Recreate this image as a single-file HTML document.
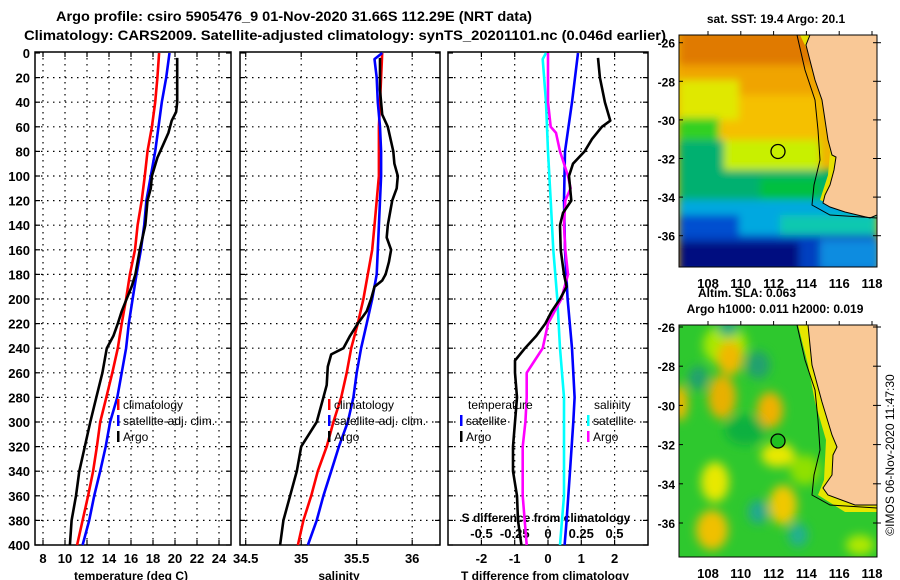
<!DOCTYPE html>
<html><head><meta charset="utf-8">
<style>
html,body{margin:0;padding:0;background:#fff;}
svg{display:block;font-family:"Liberation Sans",Arial,sans-serif;font-weight:bold;}
</style></head>
<body>
<svg id="c" width="900" height="580" viewBox="0 0 900 580" xmlns="http://www.w3.org/2000/svg">
<defs>
<filter id="blur6" x="-50%" y="-50%" width="200%" height="200%"><feGaussianBlur stdDeviation="5"/></filter>
<filter id="blur3"><feGaussianBlur stdDeviation="4"/></filter>
<clipPath id="clipTop"><rect x="679" y="35" width="198" height="232"/></clipPath>
<clipPath id="clipBot"><rect x="679" y="325" width="198" height="232"/></clipPath>
</defs>
<text x="56" y="21" font-size="14" textLength="476" lengthAdjust="spacingAndGlyphs">Argo profile: csiro 5905476_9 01-Nov-2020 31.66S 112.29E (NRT data)</text>
<text x="24" y="40" font-size="14" textLength="642" lengthAdjust="spacingAndGlyphs">Climatology: CARS2009. Satellite-adjusted climatology: synTS_20201101.nc (0.046d earlier)</text>
<g id="plots"></g>

<!-- top map -->
<g clip-path="url(#clipTop)">
  <rect x="679" y="35" width="198" height="232" fill="#f0b400"/>
  <g filter="url(#blur3)">
    <rect x="679" y="30" width="198" height="40" fill="#e07a00"/>
    <rect x="679" y="65" width="198" height="30" fill="#f0a400"/>
    <rect x="679" y="95" width="140" height="50" fill="#f5c000"/>
    <rect x="679" y="80" width="60" height="40" fill="#e0e800"/>
    <rect x="679" y="118" width="40" height="30" fill="#30d020"/>
    <rect x="720" y="140" width="100" height="30" fill="#c8f000"/>
    <rect x="679" y="140" width="45" height="35" fill="#00b070"/>
    <rect x="679" y="170" width="198" height="30" fill="#00b070"/>
    <rect x="760" y="178" width="60" height="30" fill="#00c040"/>
    <rect x="679" y="200" width="198" height="35" fill="#00a8e0"/>
    <rect x="679" y="215" width="60" height="25" fill="#0050d0"/>
    <rect x="780" y="215" width="97" height="25" fill="#10c8b0"/>
    <rect x="679" y="235" width="198" height="40" fill="#0040c0"/>
    <rect x="679" y="242" width="120" height="30" fill="#000c80"/>
    <rect x="820" y="240" width="60" height="30" fill="#0a8ce0"/>
  </g>
  <polygon points="800,35 812,60 822,100 826,130 830,152 828,175 820,200 845,210 877,210 877,35" fill="#e6e000"/>
  <polygon points="810,35 806,45 815,80 822,100 825,120 828,140 832,155 836,157 834,170 830,185 825,195 823,203 830,207 845,212 870,218 877,215 877,35" fill="#f9c896" stroke="#000" stroke-width="1"/>
  <polyline points="797,35 805,70 815,100 818,130 820,160 814,185 812,205 830,215 877,218" fill="none" stroke="#000" stroke-width="1"/>
  <circle cx="778" cy="151.5" r="7" fill="none" stroke="#000" stroke-width="1.3"/>
</g>
<rect x="679" y="35" width="198" height="232" fill="none" stroke="#000" stroke-width="1"/>

<!-- bottom map -->
<g clip-path="url(#clipBot)">
  <rect x="679" y="325" width="198" height="232" fill="#2ec82e"/>
  <g filter="url(#blur6)">
    <ellipse cx="725" cy="345" rx="22" ry="20" fill="#a8e800"/>
    <ellipse cx="730" cy="358" rx="13" ry="17" fill="#f0b800"/>
    <ellipse cx="722" cy="397" rx="14" ry="22" fill="#e8b000"/>
    <ellipse cx="770" cy="410" rx="13" ry="18" fill="#f0b000"/>
    <ellipse cx="680" cy="403" rx="8" ry="18" fill="#f0b800"/>
    <ellipse cx="778" cy="455" rx="17" ry="12" fill="#e8e800"/>
    <ellipse cx="715" cy="482" rx="14" ry="20" fill="#e8e800"/>
    <ellipse cx="783" cy="505" rx="14" ry="20" fill="#f0c800"/>
    <ellipse cx="712" cy="530" rx="16" ry="20" fill="#f0c000"/>
    <ellipse cx="745" cy="430" rx="20" ry="15" fill="#10b040"/>
    <ellipse cx="758" cy="365" rx="12" ry="14" fill="#20a070"/>
    <ellipse cx="698" cy="378" rx="10" ry="12" fill="#20a070"/>
    <ellipse cx="758" cy="512" rx="10" ry="12" fill="#20a890"/>
    <ellipse cx="798" cy="535" rx="10" ry="12" fill="#20b090"/>
    <ellipse cx="728" cy="328" rx="10" ry="8" fill="#20a880"/>
    <ellipse cx="805" cy="470" rx="15" ry="15" fill="#90e000"/>
    <ellipse cx="860" cy="545" rx="14" ry="10" fill="#b0e800"/>
  </g>
  <polygon points="798,325 808,365 815,402 826,440 824,480 818,495 845,512 877,512 877,325" fill="#e6e600"/>
  <polygon points="808,325 812,365 822,402 832,435 837,447 833,455 832,475 823,488 828,495 855,505 877,505 877,325" fill="#f9c896" stroke="#000" stroke-width="1"/>
  <polyline points="797,325 805,360 815,390 818,420 820,450 814,475 812,495 830,505 877,508" fill="none" stroke="#000" stroke-width="1"/>
  <circle cx="778" cy="441" r="7" fill="#20c020" stroke="#000" stroke-width="1.3"/>
</g>
<rect x="679" y="325" width="198" height="232" fill="none" stroke="#000" stroke-width="1"/>

<text x="776" y="23" font-size="12" text-anchor="middle">sat. SST: 19.4 Argo: 20.1</text>
<text x="747" y="297" font-size="12" text-anchor="middle">Altim. SLA: 0.063</text>
<text x="775" y="313" font-size="12" text-anchor="middle">Argo h1000: 0.011 h2000: 0.019</text>
<text transform="translate(894,455) rotate(-90)" font-size="12" font-weight="normal" text-anchor="middle">©IMOS 06-Nov-2020 11:47:30</text>
<g id="maps"></g>
</svg>
<script>
// ---- data ----
var tClimDepth = [0,20,40,60,80,100,120,140,160,180,200,220,240,260,280,300,320,340,360,380,400];
var tClim = [18.55,18.4,18.2,17.9,17.5,17.25,16.97,16.6,16.36,15.9,15.55,15.15,14.8,14.3,13.75,13.2,12.9,12.55,12.1,11.6,11.1];
var tSat = [19.5,19.2,18.8,18.5,18.2,17.8,17.4,17.2,16.9,16.5,16.15,15.8,15.55,15.15,14.75,14.1,13.7,13.2,12.65,12.2,11.6];
var argoDepth = [4,20,40,48,55,65,75,85,100,110,120,140,160,180,190,200,210,220,230,240,260,280,300,320,340,360,380,400];
var tArgo = [20.2,20.2,20.2,20.1,19.7,19.4,18.9,18.4,17.9,17.8,17.5,17.3,16.8,16.4,16.05,15.6,15.15,14.8,14.4,13.8,13.4,12.85,12.3,11.8,11.3,11.0,10.6,10.45];
var sClimDepth = [0,20,40,60,80,100,120,140,160,180,200,220,240,260,280,300,320,340,360,380,400];
var sClim = [35.73,35.72,35.71,35.70,35.70,35.70,35.68,35.66,35.64,35.60,35.56,35.51,35.45,35.41,35.36,35.29,35.23,35.15,35.09,35.02,34.97];
var sSatDepth = [0,5,20,40,60,80,100,120,140,160,180,200,220,240,260,280,300,320,340,360,380,400];
var sSat = [35.73,35.66,35.68,35.69,35.71,35.72,35.72,35.71,35.70,35.69,35.68,35.64,35.59,35.54,35.50,35.47,35.42,35.34,35.27,35.20,35.14,35.06];
var sArgoDepth = [4,30,40,50,60,80,90,100,110,120,140,150,160,170,180,185,190,200,210,220,230,240,245,255,270,280,300,320,340,360,380,400];
var sArgo = [35.71,35.71,35.72,35.73,35.78,35.83,35.84,35.87,35.86,35.82,35.78,35.77,35.81,35.79,35.76,35.73,35.66,35.63,35.59,35.51,35.44,35.38,35.27,35.24,35.23,35.2,35.14,35.0,34.96,34.9,34.84,34.81];
var dDepth = [0,40,80,120,160,200,240,280,300,340,380,400];
var dTSat = [0.9,0.72,0.51,0.48,0.51,0.59,0.72,0.8,0.76,0.66,0.56,0.5];
var dTArgoDepth = [4,20,40,55,60,70,80,90,100,120,130,140,160,180,190,200,210,220,230,240,250,260,280,300,320,340,360,380,400];
var dTArgo = [1.5,1.56,1.71,1.87,1.62,1.32,1.1,0.75,0.63,0.7,0.45,0.36,0.38,0.48,0.56,0.36,0.11,-0.08,-0.35,-0.69,-0.99,-0.99,-0.93,-0.99,-1.05,-1.05,-0.93,-0.9,-0.8];
var dSSatDepth = [0,5,40,80,120,160,200,240,280,300,360,400];
var dSSat = [-0.015,-0.04,-0.015,0.0,0.02,0.04,0.07,0.09,0.12,0.12,0.12,0.09];
var dSArgoDepth = [0,40,60,65,80,100,110,120,140,160,180,200,210,220,240,250,260,280,300,320,360,400];
var dSArgo = [0.0,0.0,0.02,0.06,0.09,0.15,0.17,0.13,0.12,0.13,0.15,0.1,0.05,0.0,-0.04,-0.1,-0.16,-0.16,-0.17,-0.19,-0.19,-0.16];
var depthTicks = [0,20,40,60,80,100,120,140,160,180,200,220,240,260,280,300,320,340,360,380,400];
var tTicks = [8,10,12,14,16,18,20,22,24];
var sTicks = [34.5,35,35.5,36];
var sTickLabels = ["34.5","35","35.5","36"];
var tdTicks = [-2,-1,0,1,2];
var sdTicks = [-0.5,-0.25,0,0.25,0.5];
var sdTickLabels = ["-0.5","-0.25","0","0.25","0.5"];
var latTicks = [-26,-28,-30,-32,-34,-36];
var lonTicks = [108,110,112,114,116,118];

// ---- scales ----
function yD(d){return 53 + d*1.23;}
function xT(t){return 43 + (t-8)*11;}
function xS(s){return 245.7 + (s-34.5)*111;}
function xTd(v){return 548 + v*33.3;}
function xSd(v){return 548 + v*133;}
function latTop(l){return 42.7 + (-26-l)*19.3;}
function latBot(l){return 327 + (-26-l)*19.6;}
function lonX(l){return 708 + (l-108)*16.4;}

var NS="http://www.w3.org/2000/svg";
var G=document.getElementById('plots');
var M=document.getElementById('maps');
function mk(tag,attrs,parent){var e=document.createElementNS(NS,tag);for(var k in attrs)e.setAttribute(k,attrs[k]);(parent||G).appendChild(e);return e;}

var panels=[{x0:35,x1:231,name:'temperature-panel'},{x0:240,x1:440,name:'salinity-panel'},{x0:448,x1:648,name:'difference-panel'}];
panels.forEach(function(p,i){
  var fr=mk('rect',{x:p.x0,y:52,width:p.x1-p.x0,height:493,fill:'none',stroke:'#000','stroke-width':1.5});
  
  
  depthTicks.forEach(function(d){
    if(d>0&&d<400){
      var l=mk('line',{x1:p.x0,x2:p.x1,y1:yD(d),y2:yD(d),stroke:'#000','stroke-width':1.2,'stroke-dasharray':'1.5,4.5'});
      
      
    }
    mk('line',{x1:p.x0,x2:p.x0+5,y1:yD(d),y2:yD(d),stroke:'#000','stroke-width':1.2});
    mk('line',{x1:p.x1-5,x2:p.x1,y1:yD(d),y2:yD(d),stroke:'#000','stroke-width':1.2});
  });
});
depthTicks.forEach(function(d){
  var t=mk('text',{x:30,y:yD(d)+5,'font-size':13,'text-anchor':'end'});
  t.textContent=d;
  
  
});
function vgrid(xs,x0,x1){xs.forEach(function(x){
  if(x>x0+2&&x<x1-2){var l=mk('line',{x1:x,x2:x,y1:52,y2:545,stroke:'#000','stroke-width':1.2,'stroke-dasharray':'1.5,4.5'});
  
  }
  mk('line',{x1:x,x2:x,y1:52,y2:57,stroke:'#000','stroke-width':1.2});
  mk('line',{x1:x,x2:x,y1:540,y2:545,stroke:'#000','stroke-width':1.2});
});}
vgrid(tTicks.map(xT),35,231);
vgrid(sTicks.map(xS),240,440);
vgrid(tdTicks.map(xTd),448,648);
tTicks.forEach(function(v){var t=mk('text',{x:xT(v),y:563,'font-size':13,'text-anchor':'middle'});t.textContent=v;
  
  });
sTicks.forEach(function(v,i){var t=mk('text',{x:xS(v),y:563,'font-size':13,'text-anchor':'middle'});t.textContent=sTickLabels[i];
  
  });
tdTicks.forEach(function(v){var t=mk('text',{x:xTd(v),y:563,'font-size':13,'text-anchor':'middle'});t.textContent=v;
  
  });
sdTicks.forEach(function(v,i){var t=mk('text',{x:xSd(v),y:538,'font-size':13,'text-anchor':'middle'});t.textContent=sdTickLabels[i];
  
  });
function lab(x,y,s,name){var t=mk('text',{x:x,y:y,'font-size':12,'text-anchor':'middle'});t.textContent=s;
  
  return t;}
lab(131,580,'temperature (deg C)','temperature-axis-title');
lab(339,580,'salinity','salinity-axis-title');
lab(545,580,'T difference from climatology','t-diff-axis-title');
lab(546,522,'S difference from climatology','s-diff-axis-title');

function series(xs,ds,fx,color,name){
  var pts=xs.map(function(v,i){return fx(v).toFixed(1)+','+yD(ds[i]).toFixed(1);}).join(' ');
  var l=mk('polyline',{points:pts,fill:'none',stroke:color,'stroke-width':2.6,'stroke-linejoin':'round'});
  
  
}
series(tClim,tClimDepth,xT,'#ff0000','temperature-climatology-line');
series(tSat,tClimDepth,xT,'#0000ff','temperature-satellite-line');
series(tArgo,argoDepth,xT,'#000000','temperature-argo-line');
series(sClim,sClimDepth,xS,'#ff0000','salinity-climatology-line');
series(sSat,sSatDepth,xS,'#0000ff','salinity-satellite-line');
series(sArgo,sArgoDepth,xS,'#000000','salinity-argo-line');
series(dSSat,dSSatDepth,xSd,'#00ffff','s-diff-satellite-line');
series(dTSat,dDepth,xTd,'#0000ff','t-diff-satellite-line');
series(dSArgo,dSArgoDepth,xSd,'#ff00ff','s-diff-argo-line');
series(dTArgo,dTArgoDepth,xTd,'#000000','t-diff-argo-line');

function legend(x,y,color,text,name){
  mk('rect',{x:x,y:y-10,width:2.5,height:11,fill:color});
  var t=mk('text',{x:x+6,y:y,'font-size':12,'font-weight':'normal'});t.textContent=text;
  
  
}
legend(117,409,'#ff0000','climatology','legend-climatology');
legend(117,425,'#0000ff','satellite-adj. clim.','legend-satellite-adj');
legend(117,441,'#000000','Argo','legend-argo');
legend(328,409,'#ff0000','climatology','legend-sal-climatology');
legend(328,425,'#0000ff','satellite-adj. clim.','legend-sal-satellite-adj');
legend(328,441,'#000000','Argo','legend-sal-argo');
var tt=mk('text',{x:468,y:409,'font-size':12,'font-weight':'normal'});tt.textContent='temperature';


legend(460,425,'#0000ff','satellite','legend-t-satellite');
legend(460,441,'#000000','Argo','legend-t-argo');
var st=mk('text',{x:594,y:409,'font-size':12,'font-weight':'normal'});st.textContent='salinity';


legend(587,425,'#00ffff','satellite','legend-s-satellite');
legend(587,441,'#ff00ff','Argo','legend-s-argo');

// map axes
latTicks.forEach(function(l){
  var t=mk('text',{x:675,y:latTop(l)+5,'font-size':12,'text-anchor':'end'},M);t.textContent=l;
  
  
  mk('line',{x1:679,x2:683,y1:latTop(l),y2:latTop(l),stroke:'#000'},M);
  mk('line',{x1:873,x2:881,y1:latTop(l),y2:latTop(l),stroke:'#000'},M);
  var b=mk('text',{x:675,y:latBot(l)+5,'font-size':12,'text-anchor':'end'},M);b.textContent=l;
  
  
  mk('line',{x1:679,x2:683,y1:latBot(l),y2:latBot(l),stroke:'#000'},M);
  mk('line',{x1:873,x2:881,y1:latBot(l),y2:latBot(l),stroke:'#000'},M);
});
lonTicks.forEach(function(l){
  var t=mk('text',{x:lonX(l),y:288,'font-size':13,'text-anchor':'middle'},M);t.textContent=l;
  
  
  mk('line',{x1:lonX(l),x2:lonX(l),y1:31,y2:35,stroke:'#000'},M);
  var b=mk('text',{x:lonX(l),y:578,'font-size':13,'text-anchor':'middle'},M);b.textContent=l;
  
  
  mk('line',{x1:lonX(l),x2:lonX(l),y1:321,y2:325,stroke:'#000'},M);
});
</script>
</body></html>
